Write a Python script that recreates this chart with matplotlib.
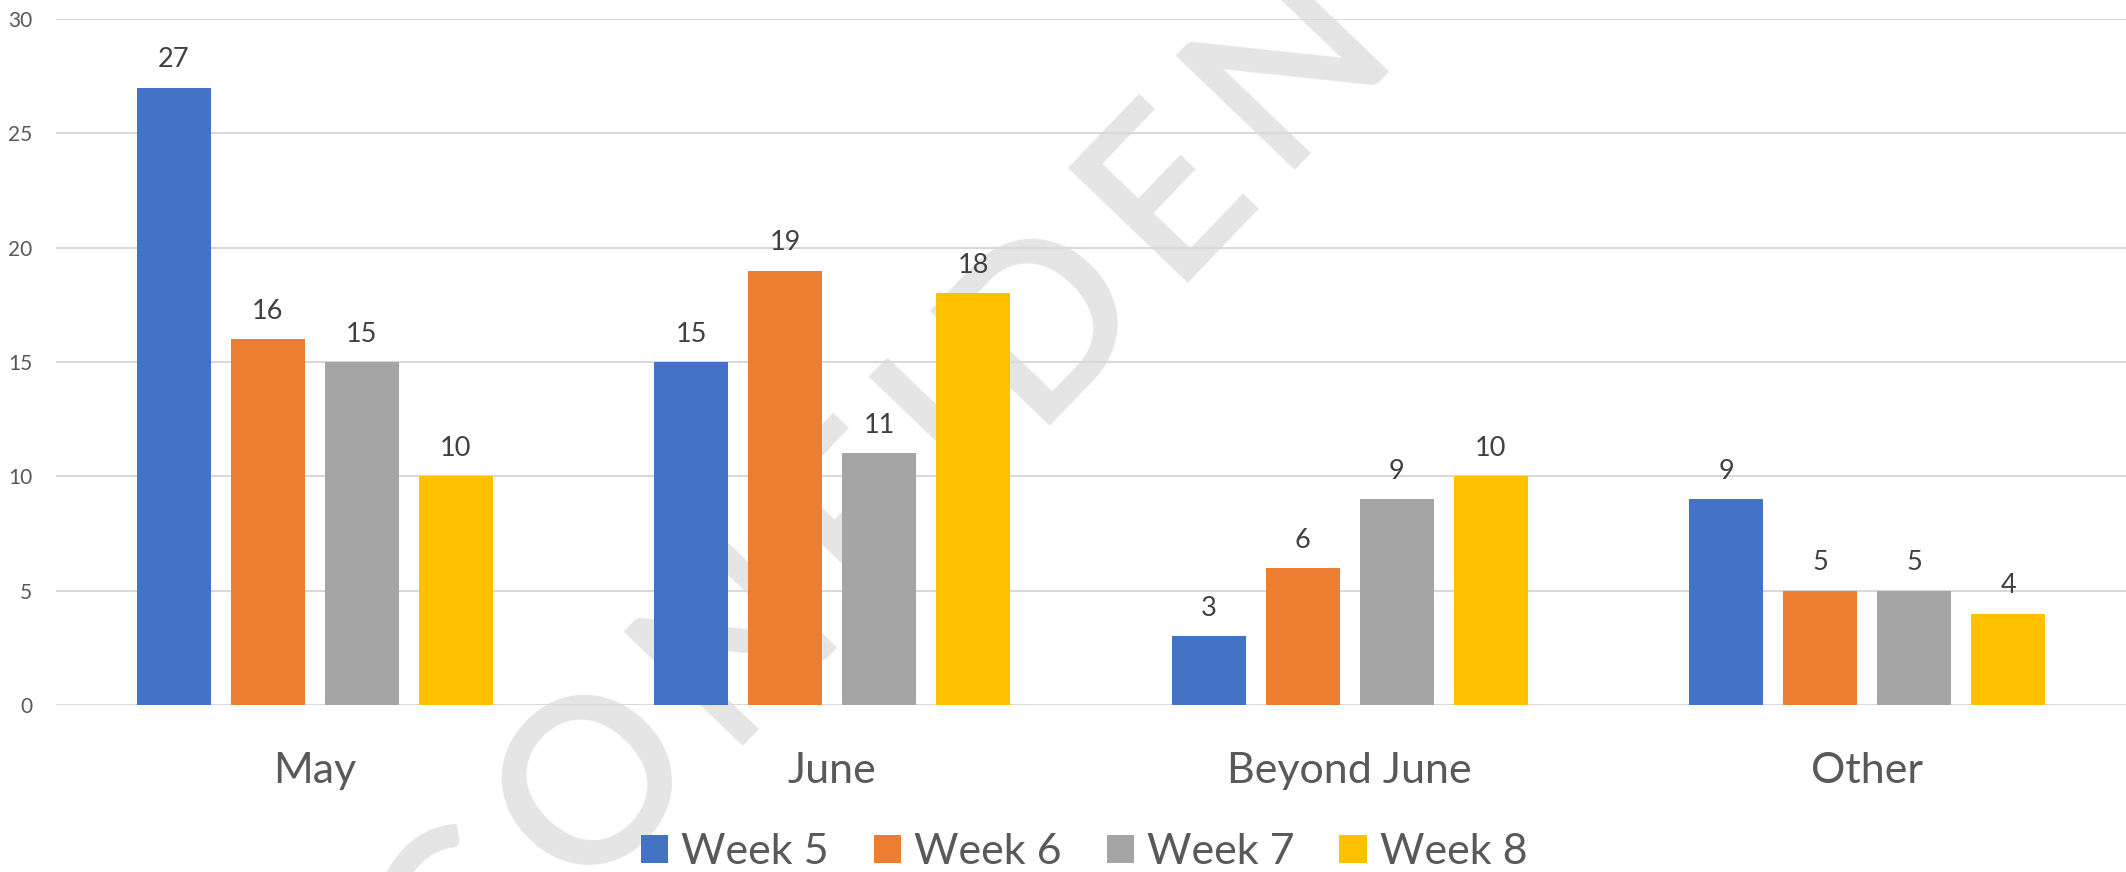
import matplotlib
matplotlib.use("Agg")
import matplotlib.pyplot as plt
from matplotlib.font_manager import FontProperties, findfont, get_font
import numpy as np

categories = ["May", "June", "Beyond June", "Other"]
series_names = ["Week 5", "Week 6", "Week 7", "Week 8"]
week5 = [27, 15, 3, 9]
week6 = [16, 19, 6, 5]
week7 = [15, 11, 9, 5]
week8 = [10, 18, 10, 4]
y_ticks = [0, 5, 10, 15, 20, 25, 30]
colors = ["#4472C4", "#ED7D31", "#A5A5A5", "#FFC000"]
watermark = "CONFIDENTIAL"

plt.rcParams['font.family'] = ['Lato', 'DejaVu Sans']

W, H = 2126, 872
DPI = 100
fig = plt.figure(figsize=(W / DPI, H / DPI), dpi=DPI)

# ---- letter-spaced diagonal watermark, behind the chart ----
wm_size = 165          # pt
wm_gap = 24            # extra px between letters
wm_angle = 46.2
wm_weight = 'semibold'
fp = FontProperties(family='Lato', size=wm_size, weight=wm_weight)
ft = get_font(findfont(fp))
ft.set_size(wm_size, DPI)
advs = [ft.load_char(ord(ch)).linearHoriAdvance / 65536.0 for ch in watermark]
centers = []
pos = 0.0
for a in advs:
    centers.append(pos + a / 2)
    pos += a + wm_gap
centers = np.array(centers) - centers[1]          # relative to the "O"
d = np.array([np.cos(np.radians(wm_angle)), np.sin(np.radians(wm_angle))])
up = np.array([-d[1], d[0]])
em_px = wm_size * DPI / 72
o_center = np.array([584.0, H - 773.0])           # display px, y up
o_base = o_center - up * 0.717 * em_px / 2
for ch, c in zip(watermark, centers):
    p = o_base + c * d
    fig.text(p[0] / W, p[1] / H, ch, rotation=wm_angle, rotation_mode='anchor',
             ha='center', va='baseline', fontproperties=fp, color="#e5e5e5", zorder=-1)

ax = fig.add_axes([56 / W, (H - 705) / H, (W - 56) / W, (705 - 19) / H])
ax.patch.set_alpha(0)

x = np.arange(len(categories))
pitch = 0.1815
width = 0.143
all_series = [week5, week6, week7, week8]
for j, (vals, name, c) in enumerate(zip(all_series, series_names, colors)):
    bars = ax.bar(x + (j - 1.5) * pitch, vals, width=width, color=c, label=name, zorder=3)
    ax.bar_label(bars, labels=[str(v) for v in vals], padding=11, fontsize=19.5,
                 color="#404040", zorder=4)

ax.set_xlim(-0.5, 3.5)
ax.set_ylim(0, 30)
ax.set_yticks(y_ticks)
ax.set_yticklabels([str(t) for t in y_ticks], fontsize=15, color="#595959")
ax.set_xticks(x)
ax.set_xticklabels(categories, fontsize=31, color="#595959")
ax.tick_params(axis='y', length=0, pad=17)
ax.tick_params(axis='x', length=0, pad=34)
ax.grid(axis='y', color="#d9d9d9", linewidth=1.5, zorder=0)
ax.set_axisbelow(True)
for s in ax.spines.values():
    s.set_visible(False)

fig.legend(loc='center', bbox_to_anchor=(1084 / W, 1 - 852 / H), ncol=4, frameon=False,
           fontsize=31, handlelength=0.63, handleheight=0.63, handletextpad=0.3,
           columnspacing=1.05, labelcolor="#595959", borderaxespad=0, borderpad=0)

fig.savefig("out.png", dpi=DPI)
